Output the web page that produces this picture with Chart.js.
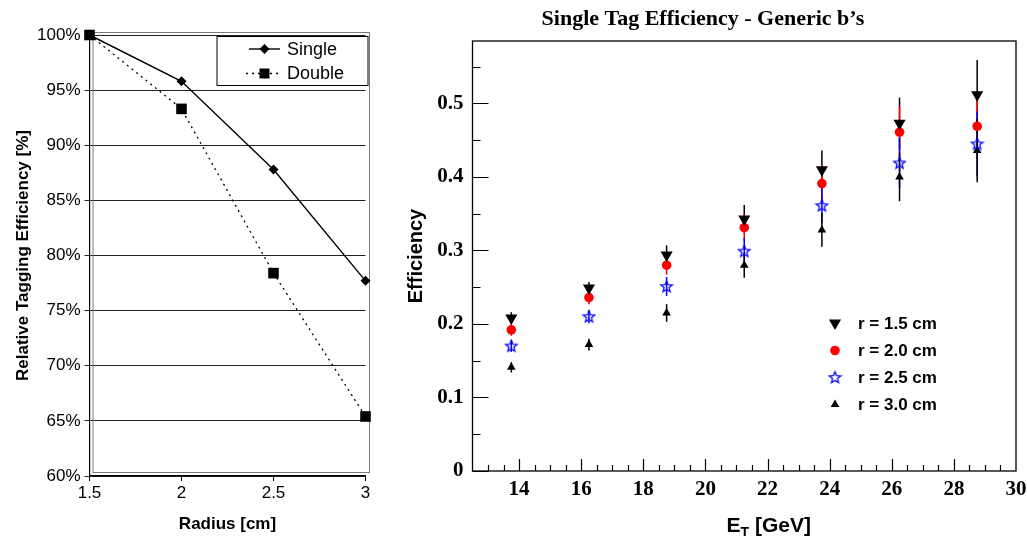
<!DOCTYPE html>
<html>
<head>
<meta charset="utf-8">
<script src="https://cdn.jsdelivr.net/npm/chart.js@4.4.1/dist/chart.umd.min.js"></script>
<style>
  html, body { margin: 0; padding: 0; background: #fff; }
  body { width: 1027px; height: 536px; position: relative; overflow: hidden; }
  #leftBox { position: absolute; left: 0; top: 0; width: 390px; height: 536px; }
  #rightBox { position: absolute; left: 390px; top: 0; width: 637px; height: 536px; }
</style>
</head>
<body>
<div id="leftBox"><canvas id="relEffChart" width="390" height="536"></canvas></div>
<div id="rightBox"><canvas id="singleTagChart" width="637" height="536"></canvas></div>
<script>
// left panel: relative tagging efficiency vs radius
const radiusValues = [1.5, 2, 2.5, 3]
const singleRel = [100, 95.8, 87.8, 77.7]
const doubleRel = [100, 93.3, 78.4, 65.4]
const relTicks = [60, 65, 70, 75, 80, 85, 90, 95, 100]
const relSeriesNames = ['Single', 'Double']

// right panel: single tag efficiency vs E_T
const etBins = [13.75, 16.25, 18.75, 21.25, 23.75, 26.25, 28.75]
const effR15 = [0.208, 0.249, 0.294, 0.343, 0.410, 0.473, 0.512]
const effR20 = [0.192, 0.236, 0.280, 0.331, 0.391, 0.461, 0.469]
const effR25 = [0.170, 0.210, 0.251, 0.299, 0.361, 0.419, 0.445]
const effR30 = [0.141, 0.172, 0.215, 0.280, 0.328, 0.400, 0.436]
const errR15 = [0.008, 0.008, 0.013, 0.019, 0.026, 0.035, 0.047]
const errR20 = [0.008, 0.009, 0.013, 0.018, 0.025, 0.035, 0.045]
const errR25 = [0.008, 0.009, 0.013, 0.018, 0.024, 0.034, 0.044]
const errR30 = [0.007, 0.008, 0.012, 0.017, 0.023, 0.033, 0.043]
const etTicks = [14, 16, 18, 20, 22, 24, 26, 28, 30]
const effTicks = [0, 0.1, 0.2, 0.3, 0.4, 0.5]
const radiusNames = ['r = 1.5 cm', 'r = 2.0 cm', 'r = 2.5 cm', 'r = 3.0 cm']

const SANS = '"Liberation Sans", Arial, Helvetica, sans-serif'
const SERIF = '"Liberation Serif", "Times New Roman", serif'

function makeStar(color){
    const c = document.createElement('canvas')
    c.width = 15
    c.height = 15
    const ctx = c.getContext('2d')
    ctx.strokeStyle = color
    ctx.lineWidth = 1.3
    ctx.beginPath()
    for (let i = 0; i < 10; i++) {
        const r = i % 2 ? 2.6 : 6.0
        const a = -Math.PI / 2 + i * Math.PI / 5
        ctx.lineTo(7.5 + r * Math.cos(a), 7.8 + r * Math.sin(a))
    }
    ctx.closePath()
    ctx.stroke()
    return c
}
const blueStar = makeStar('#0000ff')

function triangle(ctx, x, y, r, down){
    const s = down ? -1 : 1
    ctx.beginPath()
    ctx.moveTo(x, y - s * r)
    ctx.lineTo(x + r * 0.866, y + s * r * 0.5)
    ctx.lineTo(x - r * 0.866, y + s * r * 0.5)
    ctx.closePath()
    ctx.fill()
}

const relDecor = {
    id: 'relDecor',
    beforeDatasetsDraw(chart){
        const {ctx, chartArea: a} = chart
        ctx.save()
        ctx.strokeStyle = '#7a7a7a'
        ctx.lineWidth = 1
        ctx.strokeRect(a.left + 3.5, a.top - 2.5, a.right - a.left + 0.5, a.bottom - a.top - 1)
        ctx.restore()
    },
    afterDatasetsDraw(chart){
        const {ctx, chartArea: a} = chart
        const bx = a.right - 148.5, by = a.top + 1.5
        ctx.save()
        ctx.fillStyle = '#fff'
        ctx.fillRect(bx, by, 151, 49)
        ctx.strokeStyle = '#000'
        ctx.lineWidth = 1
        ctx.strokeRect(bx, by, 151, 49)
        const rows = [by + 12.5, by + 37]
        // Single
        ctx.beginPath()
        ctx.moveTo(bx + 32, rows[0])
        ctx.lineTo(bx + 63, rows[0])
        ctx.lineWidth = 1.4
        ctx.stroke()
        ctx.fillStyle = '#000'
        ctx.beginPath()
        ctx.moveTo(bx + 47.5, rows[0] - 5)
        ctx.lineTo(bx + 52.5, rows[0])
        ctx.lineTo(bx + 47.5, rows[0] + 5)
        ctx.lineTo(bx + 42.5, rows[0])
        ctx.closePath()
        ctx.fill()
        // Double
        ctx.setLineDash([2, 4])
        ctx.beginPath()
        ctx.moveTo(bx + 29, rows[1])
        ctx.lineTo(bx + 64, rows[1])
        ctx.stroke()
        ctx.setLineDash([])
        ctx.fillRect(bx + 42.5, rows[1] - 5, 10, 10)
        ctx.font = '18px ' + SANS
        ctx.textBaseline = 'middle'
        ctx.fillText(relSeriesNames[0], bx + 70, rows[0] + 1)
        ctx.fillText(relSeriesNames[1], bx + 70, rows[1] + 1)
        ctx.restore()
    }
}

new Chart(document.getElementById('relEffChart'), {
    type: 'line',
    data: {
        datasets: [{
            label: relSeriesNames[0],
            data: radiusValues.map((r, i) => ({x: r, y: singleRel[i]})),
            borderColor: '#000',
            backgroundColor: '#000',
            borderWidth: 1.4,
            pointStyle: 'rectRot',
            pointRadius: 5,
            pointBorderWidth: 0,
            tension: 0,
            clip: false
        }, {
            label: relSeriesNames[1],
            data: radiusValues.map((r, i) => ({x: r, y: doubleRel[i]})),
            borderColor: '#000',
            backgroundColor: '#000',
            borderWidth: 1.3,
            borderDash: [2, 4],
            pointStyle: 'rect',
            pointRadius: 7.5,
            pointBorderWidth: 0,
            tension: 0,
            clip: false
        }]
    },
    options: {
        responsive: false,
        animation: false,
        devicePixelRatio: 1,
        events: [],
        layout: {padding: {top: 35, right: 24.5, left: 0, bottom: 0}},
        scales: {
            x: {
                type: 'linear',
                min: 1.5,
                max: 3,
                afterBuildTicks: scale => { scale.ticks = radiusValues.map(v => ({value: v})) },
                afterFit: scale => { scale.height = 60; scale.paddingLeft = 0; scale.paddingRight = 0 },
                grid: {drawOnChartArea: false, drawTicks: true, tickLength: 5, color: '#000'},
                border: {display: true, color: '#000', width: 1.2},
                ticks: {font: {family: SANS, size: 17}, color: '#000', padding: 2, maxRotation: 0,
                    callback: v => String(v)},
                title: {display: true, text: 'Radius [cm]', font: {family: SANS, size: 17, weight: 'bold'},
                    color: '#000', padding: {top: 0, bottom: 1}}
            },
            y: {
                min: 60,
                max: 100,
                afterBuildTicks: scale => { scale.ticks = relTicks.map(v => ({value: v})) },
                afterFit: scale => { scale.width = 89.5 },
                grid: {color: '#222', lineWidth: 1, drawTicks: true, tickLength: 5},
                border: {display: true, color: '#000', width: 1.2},
                ticks: {font: {family: SANS, size: 17}, color: '#000', padding: 4,
                    callback: v => v + '%'},
                title: {display: true, text: 'Relative Tagging Efficiency [%]',
                    font: {family: SANS, size: 17, weight: 'bold'}, color: '#000', padding: {top: 13, bottom: 0}}
            }
        },
        plugins: {legend: {display: false}, tooltip: {enabled: false}}
    },
    plugins: [relDecor]
})

const tagDecor = {
    id: 'tagDecor',
    beforeDatasetsDraw(chart){
        const {ctx} = chart
        const xs = chart.scales.x, ys = chart.scales.y
        ctx.save()
        // error bars
        chart.data.datasets.forEach(ds => {
            ctx.strokeStyle = ds.barColor
            ctx.lineWidth = 1.5
            ds.data.forEach((p, j) => {
                const x = xs.getPixelForValue(p.x)
                ctx.beginPath()
                ctx.moveTo(x, ys.getPixelForValue(p.y - ds.errors[j]))
                ctx.lineTo(x, ys.getPixelForValue(p.y + ds.errors[j]))
                ctx.stroke()
            })
        })
        ctx.restore()
    },
    afterDatasetsDraw(chart){
        const {ctx, chartArea: a} = chart
        const xs = chart.scales.x, ys = chart.scales.y
        ctx.save()
        ctx.strokeStyle = '#000'
        ctx.lineWidth = 1.3
        ctx.strokeRect(a.left, a.top, a.right - a.left, a.bottom - a.top)
        // inward tick marks
        ctx.lineWidth = 1.2
        ctx.beginPath()
        for (let v = 0; v <= ys.max + 1e-9; v += 0.05) {
            const y = Math.round(ys.getPixelForValue(v)) + 0.5
            const len = Math.round(v * 20) % 2 === 0 ? 16 : 8
            ctx.moveTo(a.left, y)
            ctx.lineTo(a.left + len, y)
        }
        for (let v = 13; v < xs.max; v += 0.5) {
            const x = Math.round(xs.getPixelForValue(v)) + 0.5
            const len = v % 2 === 0 ? 12 : 6
            ctx.moveTo(x, a.bottom)
            ctx.lineTo(x, a.bottom - len)
        }
        ctx.stroke()

        // legend
        const lx = a.left + 362.5, ly = [323, 350.5, 377.5, 404.5]
        ctx.fillStyle = '#000'
        triangle(ctx, lx, ly[0], 7, true)
        ctx.fillStyle = '#ff0000'
        ctx.beginPath()
        ctx.arc(lx, ly[1], 4.8, 0, Math.PI * 2)
        ctx.fill()
        ctx.drawImage(blueStar, lx - 7.5, ly[2] - 7.5)
        ctx.fillStyle = '#000'
        triangle(ctx, lx, ly[3], 5, false)
        ctx.font = 'bold 17px ' + SANS
        ctx.textBaseline = 'middle'
        radiusNames.forEach((t, i) => ctx.fillText(t, lx + 23, ly[i] + 1))

        // axis titles
        ctx.save()
        ctx.translate(26, (a.top + a.bottom) / 2)
        ctx.rotate(-Math.PI / 2)
        ctx.textAlign = 'center'
        ctx.font = 'bold 20px ' + SANS
        ctx.fillText('Efficiency', 0, 0)
        ctx.restore()
        let tx = a.left + 254
        const ty = 525
        ctx.textAlign = 'left'
        ctx.textBaseline = 'alphabetic'
        ctx.font = 'bold 21px ' + SANS
        ctx.fillText('E', tx, ty + 7)
        tx += ctx.measureText('E').width
        ctx.font = 'bold 14px ' + SANS
        ctx.fillText('T', tx, ty + 12)
        tx += ctx.measureText('T').width
        ctx.font = 'bold 21px ' + SANS
        ctx.fillText(' [GeV]', tx, ty + 7)
        ctx.restore()
    }
}

new Chart(document.getElementById('singleTagChart'), {
    type: 'scatter',
    data: {
        datasets: [{
            label: radiusNames[0],
            data: etBins.map((x, i) => ({x, y: effR15[i]})),
            errors: errR15,
            barColor: '#000',
            pointStyle: 'triangle',
            rotation: 180,
            pointRadius: 7,
            backgroundColor: '#000',
            borderColor: '#000',
            borderWidth: 0
        }, {
            label: radiusNames[1],
            data: etBins.map((x, i) => ({x, y: effR20[i]})),
            errors: errR20,
            barColor: '#ff0000',
            pointStyle: 'circle',
            pointRadius: 4.8,
            backgroundColor: '#ff0000',
            borderColor: '#ff0000',
            borderWidth: 0
        }, {
            label: radiusNames[2],
            data: etBins.map((x, i) => ({x, y: effR25[i]})),
            errors: errR25,
            barColor: '#0000ff',
            pointStyle: blueStar,
            pointRadius: 7,
            backgroundColor: '#0000ff',
            borderColor: '#0000ff',
            borderWidth: 0
        }, {
            label: radiusNames[3],
            data: etBins.map((x, i) => ({x, y: effR30[i]})),
            errors: errR30,
            barColor: '#000',
            pointStyle: 'triangle',
            pointRadius: 5,
            backgroundColor: '#000',
            borderColor: '#000',
            borderWidth: 0
        }]
    },
    options: {
        responsive: false,
        animation: false,
        devicePixelRatio: 1,
        events: [],
        layout: {padding: {top: 0, right: 11, left: 0, bottom: 0}},
        scales: {
            x: {
                type: 'linear',
                min: 12.5,
                max: 30,
                afterBuildTicks: scale => { scale.ticks = etTicks.map(v => ({value: v})) },
                afterFit: scale => { scale.height = 65; scale.paddingLeft = 0; scale.paddingRight = 0 },
                grid: {display: false, drawTicks: false},
                border: {display: false},
                ticks: {font: {family: SERIF, size: 21, weight: 'bold'}, color: '#000', padding: 6, maxRotation: 0,
                    callback: v => String(v)}
            },
            y: {
                min: 0,
                max: 0.585,
                afterBuildTicks: scale => { scale.ticks = effTicks.map(v => ({value: v})) },
                afterFit: scale => { scale.width = 82.5 },
                grid: {display: false, drawTicks: false},
                border: {display: false},
                ticks: {font: {family: SERIF, size: 21, weight: 'bold'}, color: '#000', padding: 9,
                    callback: v => v === 0 ? '0' : v.toFixed(1)}
            }
        },
        plugins: {
            legend: {display: false},
            tooltip: {enabled: false},
            title: {
                display: true,
                text: 'Single Tag Efficiency - Generic b\u2019s',
                font: {family: SERIF, size: 22, weight: 'bold'},
                color: '#000',
                padding: {top: 6, bottom: 8.6}
            }
        }
    },
    plugins: [tagDecor]
})
</script>
</body>
</html>
